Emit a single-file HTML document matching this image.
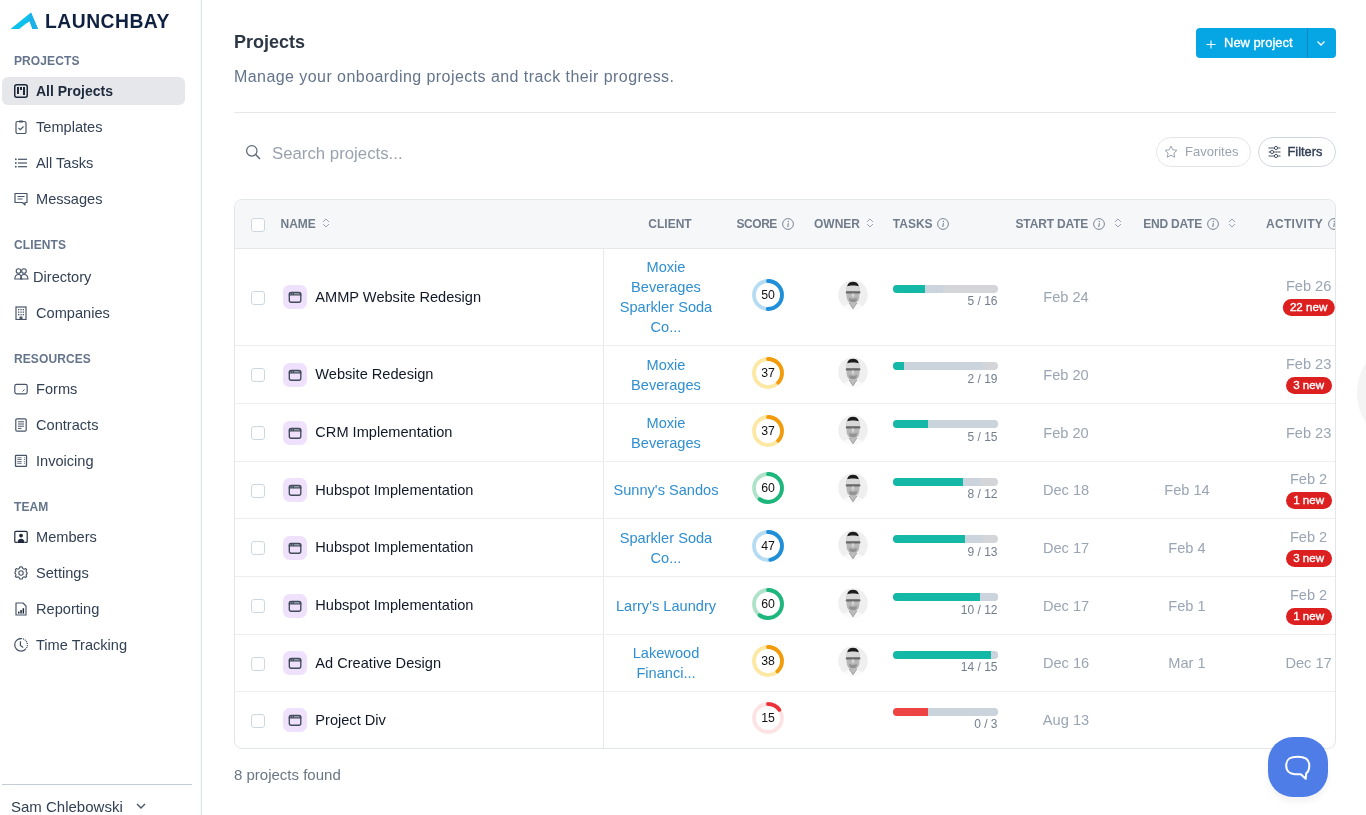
<!DOCTYPE html>
<html><head><meta charset="utf-8">
<style>
*{box-sizing:border-box;margin:0;padding:0}
html,body{width:1366px;height:815px;overflow:hidden;background:#fff;font-family:"Liberation Sans",sans-serif}
#side,#main{will-change:transform}
.abs{position:absolute}
#side{position:absolute;left:0;top:0;width:202px;height:815px;background:#fff;border-right:1px solid #e4e6ee;box-shadow:inset -1px 0 0 #f6f7fa}
.sec{position:absolute;left:14px;font-size:12px;font-weight:700;color:#64748b;letter-spacing:0.1px;line-height:14px}
.nav{position:absolute;left:2px;width:183px;height:28px;border-radius:6px}
.nav.act{background:#e5e7eb}
.nav svg{position:absolute;left:12px;top:7px}
.nav span{position:absolute;left:34px;top:5px;font-size:14.6px;color:#334155;line-height:18px;white-space:nowrap}
.nav.act span{font-weight:700;color:#1e293b;font-size:14px}
#main{position:absolute;left:202px;top:0;width:1164px;height:815px}
.th{position:absolute;top:0;line-height:14px;font-size:12px;font-weight:700;color:#717c8b;white-space:nowrap}
.row{position:absolute;left:0;width:1101px;border-top:1px solid #e8eaee}
.cb{position:absolute;left:16px;width:14px;height:14px;border:1.5px solid #cfd6df;border-radius:3px;background:#fff}
.pic{position:absolute;left:48px;width:24px;height:24px;border-radius:6px;background:#f1e3fc}
.pn{position:absolute;left:80px;font-size:14.6px;color:#111827;white-space:nowrap;line-height:18px}
.cl{position:absolute;left:369px;width:125px;text-align:center;font-size:14.6px;color:#2f8fd0;line-height:20px}
.date{position:absolute;font-size:14.6px;color:#9aa5b4;line-height:18px;white-space:nowrap}
.badge{position:absolute;height:17px;line-height:15.6px;border-radius:8.5px;background:#dc2020;color:#fff;font-size:11.6px;font-weight:400;-webkit-text-stroke:0.35px #fff;text-align:center;padding:0 7.5px;white-space:nowrap}
.bar{position:absolute;left:658px;width:105px;height:8px;border-radius:4px;background:#d3d4d6;overflow:hidden}
.tk{position:absolute;left:658px;width:105px;text-align:right;font-size:12px;color:#737e8d;line-height:14px}
.ring{position:absolute;left:516px;width:34px;height:34px}
.av{position:absolute;left:603px;width:30px;height:30px}
</style></head><body>
<div id="side">
  <!-- logo -->
  <svg class="abs" style="left:10px;top:12px" width="30" height="18" viewBox="0 0 30 18">
    <path d="M0.5 17 L21 0.5 L28 17 L22.5 17 L19.5 9 L9 17 Z" fill="#0cc2ec"/>
    <path d="M21 0.5 L28 17 L22.5 17 L19.5 9 L16.5 11.3 Z" fill="#1cb0e9"/>
  </svg>
  <div class="abs" style="left:45px;top:11.1px;font-size:19.3px;font-weight:700;color:#0f2140;letter-spacing:0.5px;line-height:22px">LAUNCHBAY</div>

  <div class="sec" style="top:54px">PROJECTS</div>
  <div class="nav act" style="top:77px"><svg width="14" height="14" viewBox="0 0 14 14"><rect x="0.75" y="0.75" width="12.5" height="12.5" rx="2" fill="none" stroke="#1e293b" stroke-width="1.5"/><rect x="3" y="3" width="2" height="7" fill="#1e293b"/><rect x="6" y="3" width="2" height="3" fill="#1e293b"/><rect x="9" y="3" width="2" height="8" fill="#1e293b"/></svg><span>All Projects</span></div>
  <div class="nav" style="top:113px"><svg width="14" height="14" viewBox="0 0 14 14"><rect x="2" y="1.5" width="10" height="12" rx="1.5" fill="none" stroke="#475569" stroke-width="1.2"/><rect x="5" y="0.5" width="4" height="2" rx="0.5" fill="#475569"/><path d="M4.5 8 L6.3 9.7 L9.5 6.5" fill="none" stroke="#475569" stroke-width="1.1"/></svg><span>Templates</span></div>
  <div class="nav" style="top:149px"><svg width="14" height="14" viewBox="0 0 14 14"><g fill="#475569"><rect x="1" y="2.5" width="1.6" height="1.6"/><rect x="1" y="6.2" width="1.6" height="1.6"/><rect x="1" y="9.9" width="1.6" height="1.6"/><rect x="4" y="2.7" width="9" height="1.2"/><rect x="4" y="6.4" width="9" height="1.2"/><rect x="4" y="10.1" width="9" height="1.2"/></g></svg><span>All Tasks</span></div>
  <div class="nav" style="top:185px"><svg width="14" height="14" viewBox="0 0 14 14"><path d="M1 1.5 H13 V10.5 H11 V13 L8.5 10.5 H1 Z" fill="none" stroke="#475569" stroke-width="1.2" stroke-linejoin="round"/><path d="M3.5 4.5 H10.5 M3.5 7 H8.5" stroke="#475569" stroke-width="1.1"/></svg><span>Messages</span></div>

  <div class="sec" style="top:238px">CLIENTS</div>
  <div class="nav" style="top:263px"><svg style="top:5px" width="15" height="12" viewBox="0 0 15 12"><g fill="none" stroke="#475569" stroke-width="1.1"><circle cx="4.5" cy="3" r="2.3"/><circle cx="10" cy="3" r="2.3"/><path d="M0.8 11 C1 7.5 3 6.5 4.5 6.5 C6 6.5 7.5 7.5 7.8 11 Z"/><path d="M6.5 11 C6.8 7.5 8.5 6.5 10 6.5 C11.5 6.5 13.8 7.5 14 11 Z"/></g></svg><span style="left:31px">Directory</span></div>
  <div class="nav" style="top:299px"><svg width="14" height="14" viewBox="0 0 14 14"><rect x="2" y="1" width="10" height="12.5" fill="none" stroke="#475569" stroke-width="1.2"/><g fill="#475569"><rect x="4" y="3" width="1.3" height="1.3"/><rect x="6.4" y="3" width="1.3" height="1.3"/><rect x="8.7" y="3" width="1.3" height="1.3"/><rect x="4" y="5.5" width="1.3" height="1.3"/><rect x="6.4" y="5.5" width="1.3" height="1.3"/><rect x="8.7" y="5.5" width="1.3" height="1.3"/><rect x="4" y="8" width="1.3" height="1.3"/><rect x="6.4" y="8" width="1.3" height="1.3"/><rect x="8.7" y="8" width="1.3" height="1.3"/><rect x="5.5" y="10.5" width="3" height="3"/></g></svg><span>Companies</span></div>

  <div class="sec" style="top:352px">RESOURCES</div>
  <div class="nav" style="top:375px"><svg width="14" height="14" viewBox="0 0 14 14"><rect x="0.8" y="2.3" width="12.4" height="9.5" rx="1.8" fill="none" stroke="#475569" stroke-width="1.2"/><path d="M8.5 9.5 L10.5 7.5" stroke="#475569" stroke-width="1"/></svg><span>Forms</span></div>
  <div class="nav" style="top:411px"><svg width="14" height="14" viewBox="0 0 14 14"><rect x="1.8" y="0.8" width="10.4" height="12.4" rx="1.2" fill="none" stroke="#475569" stroke-width="1.2"/><path d="M4 3.8 H10 M4 6 H10 M4 8.2 H10 M4 10.4 H7.5" stroke="#475569" stroke-width="1"/></svg><span>Contracts</span></div>
  <div class="nav" style="top:447px"><svg width="14" height="14" viewBox="0 0 14 14"><rect x="1.5" y="1.3" width="11" height="11" rx="0.6" fill="none" stroke="#475569" stroke-width="1.3"/><path d="M3.3 3.8 H7.6 M3.3 5.5 H7.6 M3.3 7.6 H7.6 M3.3 9.3 H7.6 M9.9 3.8 H10.9 M9.9 5.5 H10.9 M9.9 7.6 H10.9 M9.9 9.3 H10.9" stroke="#5b6675" stroke-width="0.9"/></svg><span>Invoicing</span></div>

  <div class="sec" style="top:500px">TEAM</div>
  <div class="nav" style="top:523px"><svg width="14" height="14" viewBox="0 0 14 14"><path d="M3.2 12.4 H1.8 Q0.8 12.4 0.8 11.4 V2.4 Q0.8 1.4 1.8 1.4 H12.2 Q13.2 1.4 13.2 2.4 V11.4 Q13.2 12.4 12.2 12.4 H10.8" fill="none" stroke="#1e293b" stroke-width="1.2"/><circle cx="7" cy="5.6" r="1.9" fill="#1e293b"/><path d="M3.3 13 C3.6 9.8 5 8.7 7 8.7 C9 8.7 10.4 9.8 10.7 13 Z" fill="#1e293b"/></svg><span>Members</span></div>
  <div class="nav" style="top:559px"><svg width="14" height="14" viewBox="0 0 14 14"><path d="M7 0.8 L8.3 1 L8.8 2.6 L10.2 3.3 L11.7 2.6 L12.7 3.6 L12 5.1 L12.6 6.5 L13.2 7 L12.6 8.5 L12 8.9 L12.7 10.4 L11.7 11.4 L10.2 10.7 L8.8 11.4 L8.3 13 L5.7 13 L5.2 11.4 L3.8 10.7 L2.3 11.4 L1.3 10.4 L2 8.9 L1.4 7.5 L0.8 7 L1.4 5.5 L2 5.1 L1.3 3.6 L2.3 2.6 L3.8 3.3 L5.2 2.6 L5.7 1 Z" fill="none" stroke="#475569" stroke-width="1.1" stroke-linejoin="round"/><circle cx="7" cy="7" r="2.2" fill="none" stroke="#475569" stroke-width="1.1"/></svg><span>Settings</span></div>
  <div class="nav" style="top:595px"><svg width="14" height="14" viewBox="0 0 14 14"><path d="M2 1 H9 L12 4 V13 H2 Z" fill="none" stroke="#475569" stroke-width="1.2" stroke-linejoin="round"/><g fill="#1e293b"><rect x="4" y="9.6" width="1.5" height="2"/><rect x="6.3" y="8" width="1.5" height="3.6"/><rect x="8.6" y="6.2" width="1.5" height="5.4"/></g></svg><span>Reporting</span></div>
  <div class="nav" style="top:631px"><svg width="15" height="15" viewBox="0 0 15 15"><path d="M7 0.5 A6.3 6.3 0 0 0 7 13.1 A6.3 6.3 0 0 0 11.5 11.3" fill="none" stroke="#475569" stroke-width="1.25"/><path d="M7 0.5 A6.3 6.3 0 0 1 11.5 11.3" fill="none" stroke="#475569" stroke-width="1.25" stroke-dasharray="1.1 0.9"/><path d="M6.4 3.2 V7.4 L9.2 9.4" fill="none" stroke="#475569" stroke-width="1.25"/></svg><span>Time Tracking</span></div>

  <div class="abs" style="left:2px;top:784px;width:190px;height:1px;background:#c4ccd6"></div>
  <div class="abs" style="left:11px;top:798px;font-size:15px;color:#334155;line-height:18px;white-space:nowrap">Sam Chlebowski</div>
  <svg class="abs" style="left:136px;top:803px" width="10" height="7" viewBox="0 0 10 7"><path d="M1 1 L5 5 L9 1" fill="none" stroke="#475569" stroke-width="1.4"/></svg>
</div>

<div id="main">
  <div class="abs" style="left:32px;top:31px;font-size:18px;font-weight:700;color:#2c3644;line-height:22px">Projects</div>
  <div class="abs" style="left:32px;top:67.3px;font-size:16px;color:#64748b;line-height:20px;letter-spacing:0.44px;white-space:nowrap">Manage your onboarding projects and track their progress.</div>

  <!-- new project button -->
  <div class="abs" style="left:994px;top:28px;width:140px;height:30px;background:#06a5e3;border-radius:4px"></div>
  <div class="abs" style="left:1105px;top:28px;width:1px;height:30px;background:#0a8ac0"></div>
  <svg class="abs" style="left:1003.5px;top:39.5px" width="10" height="9" viewBox="0 0 10 9"><path d="M5 0.5 V8.5 M0.5 4.5 H9.5" stroke="#fff" stroke-width="1.1"/></svg>
  <div class="abs" style="left:1022px;top:35px;font-size:13px;color:#fff;-webkit-text-stroke:0.3px #fff;line-height:16px;white-space:nowrap">New project</div>
  <svg class="abs" style="left:1114px;top:40px" width="10" height="7" viewBox="0 0 10 7"><path d="M1.5 1.5 L5 5 L8.5 1.5" fill="none" stroke="#fff" stroke-width="1.3"/></svg>

  <div class="abs" style="left:32px;top:112px;width:1102px;height:1px;background:#e5e7eb"></div>

  <!-- search -->
  <svg class="abs" style="left:43px;top:144px" width="16" height="16" viewBox="0 0 16 16"><circle cx="6.8" cy="6.8" r="5.2" fill="none" stroke="#5b6878" stroke-width="1.25"/><path d="M10.6 10.6 L15 15" stroke="#5b6878" stroke-width="1.4"/></svg>
  <div class="abs" style="left:70px;top:143.8px;font-size:16.8px;color:#9aa2ae;line-height:20px;white-space:nowrap">Search projects...</div>

  <!-- favorites / filters -->
  <div class="abs" style="left:954px;top:137px;width:95px;height:30px;border:1px solid #e2e5ea;border-radius:15px"></div>
  <svg class="abs" style="left:962px;top:145px" width="14" height="14" viewBox="0 0 14 14"><path d="M7 1 L8.8 4.8 L13 5.3 L9.9 8.1 L10.7 12.3 L7 10.2 L3.3 12.3 L4.1 8.1 L1 5.3 L5.2 4.8 Z" fill="none" stroke="#9aa3af" stroke-width="1" stroke-linejoin="round"/></svg>
  <div class="abs" style="left:983px;top:144px;font-size:13px;color:#9aa3af;line-height:16px">Favorites</div>
  <div class="abs" style="left:1056px;top:137px;width:78px;height:30px;border:1px solid #cfd6df;border-radius:15px"></div>
  <svg class="abs" style="left:1066px;top:145px" width="13" height="14" viewBox="0 0 13 14"><g stroke="#475569" stroke-width="1" fill="#fff"><path d="M0.5 3 H12.5 M0.5 7 H12.5 M0.5 11 H12.5"/><circle cx="8" cy="3" r="1.6"/><circle cx="4" cy="7" r="1.6"/><circle cx="8" cy="11" r="1.6"/></g></svg>
  <div class="abs" style="left:1085.5px;top:144px;font-size:12.8px;font-weight:400;-webkit-text-stroke:0.4px #334155;color:#334155;line-height:16px">Filters</div>

  <!-- table -->
  <div id="tbl" class="abs" style="left:32px;top:199px;width:1102px;height:550px;border:1px solid #e2e5ea;border-radius:8px;overflow:hidden">
<div class="abs" style="left:0;top:0;width:1102px;height:48px;background:#f6f7f9"></div>
<div class="abs" style="left:0;top:48.00px;width:1102px;height:1px;background:#e6e8ec"></div>
<div class="cb" style="left:16.00px;top:17.50px"></div>
<div class="th" style="left:45.50px;top:16.60px;letter-spacing:0px">NAME</div>
<svg class="abs" style="left:87.00px;top:18.00px" width="8" height="10" viewBox="0 0 8 10"><path d="M1 4 L4 1 L7 4 M1 6 L4 9 L7 6" fill="none" stroke="#9aa3af" stroke-width="1"/></svg>
<div class="th" style="left:413.30px;top:16.60px;letter-spacing:0px">CLIENT</div>
<div class="th" style="left:501.50px;top:16.60px;letter-spacing:-0.45px">SCORE</div>
<svg class="abs" style="left:547.00px;top:18.00px" width="12" height="12" viewBox="0 0 12 12"><circle cx="6" cy="6" r="5.4" fill="none" stroke="#7b8594" stroke-width="1"/><circle cx="6.4" cy="3.6" r="0.75" fill="#7b8594"/><path d="M6.4 5.2 L5.8 9" stroke="#7b8594" stroke-width="1.1"/></svg>
<div class="th" style="left:579.00px;top:16.60px;letter-spacing:0px">OWNER</div>
<svg class="abs" style="left:631.00px;top:18.00px" width="8" height="10" viewBox="0 0 8 10"><path d="M1 4 L4 1 L7 4 M1 6 L4 9 L7 6" fill="none" stroke="#9aa3af" stroke-width="1"/></svg>
<div class="th" style="left:657.80px;top:16.60px;letter-spacing:0px">TASKS</div>
<svg class="abs" style="left:701.50px;top:18.00px" width="12" height="12" viewBox="0 0 12 12"><circle cx="6" cy="6" r="5.4" fill="none" stroke="#7b8594" stroke-width="1"/><circle cx="6.4" cy="3.6" r="0.75" fill="#7b8594"/><path d="M6.4 5.2 L5.8 9" stroke="#7b8594" stroke-width="1.1"/></svg>
<div class="th" style="left:780.50px;top:16.60px;letter-spacing:-0.15px">START DATE</div>
<svg class="abs" style="left:858.00px;top:18.00px" width="12" height="12" viewBox="0 0 12 12"><circle cx="6" cy="6" r="5.4" fill="none" stroke="#7b8594" stroke-width="1"/><circle cx="6.4" cy="3.6" r="0.75" fill="#7b8594"/><path d="M6.4 5.2 L5.8 9" stroke="#7b8594" stroke-width="1.1"/></svg>
<svg class="abs" style="left:879.00px;top:18.00px" width="8" height="10" viewBox="0 0 8 10"><path d="M1 4 L4 1 L7 4 M1 6 L4 9 L7 6" fill="none" stroke="#9aa3af" stroke-width="1"/></svg>
<div class="th" style="left:908.30px;top:16.60px;letter-spacing:-0.22px">END DATE</div>
<svg class="abs" style="left:972.00px;top:18.00px" width="12" height="12" viewBox="0 0 12 12"><circle cx="6" cy="6" r="5.4" fill="none" stroke="#7b8594" stroke-width="1"/><circle cx="6.4" cy="3.6" r="0.75" fill="#7b8594"/><path d="M6.4 5.2 L5.8 9" stroke="#7b8594" stroke-width="1.1"/></svg>
<svg class="abs" style="left:993.00px;top:18.00px" width="8" height="10" viewBox="0 0 8 10"><path d="M1 4 L4 1 L7 4 M1 6 L4 9 L7 6" fill="none" stroke="#9aa3af" stroke-width="1"/></svg>
<div class="th" style="left:1031.00px;top:16.60px;letter-spacing:0.3px">ACTIVITY</div>
<svg class="abs" style="left:1093.00px;top:18.00px" width="12" height="12" viewBox="0 0 12 12"><circle cx="6" cy="6" r="5.4" fill="none" stroke="#7b8594" stroke-width="1"/><circle cx="6.4" cy="3.6" r="0.75" fill="#7b8594"/><path d="M6.4 5.2 L5.8 9" stroke="#7b8594" stroke-width="1.1"/></svg>
<div class="abs" style="left:368.00px;top:49.00px;width:1px;height:500px;background:#e6e8ec"></div>
<div class="cb" style="left:16.00px;top:90.50px"></div>
<div class="abs" style="left:48.00px;top:85.00px;width:24px;height:24px;border-radius:6.5px;background:#efe1fc"></div><svg class="abs" style="left:53.00px;top:91.00px" width="14" height="12" viewBox="0 0 14 12"><rect x="1.3" y="1.5" width="11.5" height="9.7" rx="1.9" fill="none" stroke="#414b59" stroke-width="1.35"/><path d="M0.8 4.6 V3 Q0.8 0.9 2.9 0.9 H11.2 Q13.3 0.9 13.3 3 V4.6 Z" fill="#414b59"/><rect x="2.4" y="2.0" width="0.8" height="1.5" fill="#8f97a3"/><rect x="3.9" y="2.0" width="0.8" height="1.5" fill="#8f97a3"/><rect x="5.9" y="2.0" width="5.6" height="1.5" fill="#8f97a3"/></svg>
<div class="pn" style="left:80.30px;top:87.80px">AMMP Website Redesign</div>
<div class="cl" style="left:368.50px;top:57.00px;width:125px">Moxie<br>Beverages<br>Sparkler Soda<br>Co...</div>
<svg class="abs" style="left:514.80px;top:77.40px" width="36" height="36" viewBox="0 0 36 36"><circle cx="18" cy="18" r="14.0" fill="none" stroke="#b6dcf3" stroke-width="3.8"/><circle cx="18" cy="18" r="14.0" fill="none" stroke="#1f8fd8" stroke-width="3.8" stroke-linecap="round" stroke-dasharray="43.98 87.96" transform="rotate(-90 18 18)"/><text x="18" y="22.3" text-anchor="middle" font-family="Liberation Sans" font-size="12.3" fill="#111">50</text></svg>
<svg class="abs" style="left:603.20px;top:79.70px" width="30" height="30" viewBox="0 0 30 30"><defs><clipPath id="avc"><circle cx="15" cy="15" r="14.8"/></clipPath><filter id="avb" x="-10%" y="-10%" width="120%" height="120%"><feGaussianBlur stdDeviation="0.45"/></filter></defs><g clip-path="url(#avc)"><rect width="30" height="30" fill="#efefef"/><g filter="url(#avb)"><path d="M3 31 C4 26 8 24.5 12 23.5 L18 23.5 C22 24.5 26 26 27 31 Z" fill="#fafafa"/><path d="M11.5 23 L15 28.5 L18.5 23 L17.5 21 L12.5 21 Z" fill="#bdbdbd"/><path d="M11.2 23 L15 28.8 L18.8 23" fill="none" stroke="#808080" stroke-width="0.7"/><path d="M8.3 10 C8.3 4.8 11 2.4 15 2.4 C19 2.4 21.7 4.8 21.7 10 L21.3 17 C20.8 21.8 18.3 23.2 15 23.2 C11.7 23.2 9.2 21.8 8.7 17 Z" fill="#b7b7b7"/><path d="M8.6 7 C9.3 5 11.5 4.3 15 4.3 C18.5 4.3 20.7 5 21.4 7 L21.6 11.3 L8.4 11.3 Z" fill="#d8d8d8"/><path d="M9.2 6.3 C9.8 3 12 1.8 15 1.8 C18 1.8 20.2 3 20.8 6.3 C18.5 5.1 11.5 5.1 9.2 6.3 Z" fill="#1e1e1e"/><rect x="7.8" y="11.3" width="14.6" height="2.2" rx="0.8" fill="#6a6a6a"/><ellipse cx="15" cy="15.3" rx="1.3" ry="2" fill="#d4d4d4"/><path d="M11 17.8 C13 19.3 17 19.3 19 17.8 L18.6 20.5 C17.3 22.5 12.7 22.5 11.4 20.5 Z" fill="#929292"/></g></g></svg>
<div class="abs" style="left:657.50px;top:84.80px;width:105px;height:8px;border-radius:4px;background:#d4d5d8;overflow:hidden"><div class="abs" style="left:32.8px;top:0;width:18.0px;height:8px;background:#cbd3dd"></div><div class="abs" style="left:0;top:0;width:32.8px;height:8px;background:#14b8a6"></div></div>
<div class="tk" style="left:657.50px;top:94.00px">5 / 16</div>
<div class="date" style="left:781.00px;top:88.00px;width:100px;text-align:center">Feb 24</div>
<div class="date" style="left:1023.60px;top:77.00px;width:100px;text-align:center">Feb 26</div>
<div class="badge" style="left:1073.60px;top:99.30px;transform:translateX(-50%)">22 new</div>
<div class="abs" style="left:0;top:145.00px;width:1102px;height:1px;background:#eceef1"></div>
<div class="cb" style="left:16.00px;top:168.00px"></div>
<div class="abs" style="left:48.00px;top:162.50px;width:24px;height:24px;border-radius:6.5px;background:#efe1fc"></div><svg class="abs" style="left:53.00px;top:168.50px" width="14" height="12" viewBox="0 0 14 12"><rect x="1.3" y="1.5" width="11.5" height="9.7" rx="1.9" fill="none" stroke="#414b59" stroke-width="1.35"/><path d="M0.8 4.6 V3 Q0.8 0.9 2.9 0.9 H11.2 Q13.3 0.9 13.3 3 V4.6 Z" fill="#414b59"/><rect x="2.4" y="2.0" width="0.8" height="1.5" fill="#8f97a3"/><rect x="3.9" y="2.0" width="0.8" height="1.5" fill="#8f97a3"/><rect x="5.9" y="2.0" width="5.6" height="1.5" fill="#8f97a3"/></svg>
<div class="pn" style="left:80.30px;top:165.30px">Website Redesign</div>
<div class="cl" style="left:368.50px;top:154.50px;width:125px">Moxie<br>Beverages</div>
<svg class="abs" style="left:514.80px;top:154.90px" width="36" height="36" viewBox="0 0 36 36"><circle cx="18" cy="18" r="14.0" fill="none" stroke="#fde8a3" stroke-width="3.8"/><circle cx="18" cy="18" r="14.0" fill="none" stroke="#f29b0c" stroke-width="3.8" stroke-linecap="round" stroke-dasharray="32.55 87.96" transform="rotate(-90 18 18)"/><text x="18" y="22.3" text-anchor="middle" font-family="Liberation Sans" font-size="12.3" fill="#111">37</text></svg>
<svg class="abs" style="left:603.20px;top:157.20px" width="30" height="30" viewBox="0 0 30 30"><defs><clipPath id="avc"><circle cx="15" cy="15" r="14.8"/></clipPath><filter id="avb" x="-10%" y="-10%" width="120%" height="120%"><feGaussianBlur stdDeviation="0.45"/></filter></defs><g clip-path="url(#avc)"><rect width="30" height="30" fill="#efefef"/><g filter="url(#avb)"><path d="M3 31 C4 26 8 24.5 12 23.5 L18 23.5 C22 24.5 26 26 27 31 Z" fill="#fafafa"/><path d="M11.5 23 L15 28.5 L18.5 23 L17.5 21 L12.5 21 Z" fill="#bdbdbd"/><path d="M11.2 23 L15 28.8 L18.8 23" fill="none" stroke="#808080" stroke-width="0.7"/><path d="M8.3 10 C8.3 4.8 11 2.4 15 2.4 C19 2.4 21.7 4.8 21.7 10 L21.3 17 C20.8 21.8 18.3 23.2 15 23.2 C11.7 23.2 9.2 21.8 8.7 17 Z" fill="#b7b7b7"/><path d="M8.6 7 C9.3 5 11.5 4.3 15 4.3 C18.5 4.3 20.7 5 21.4 7 L21.6 11.3 L8.4 11.3 Z" fill="#d8d8d8"/><path d="M9.2 6.3 C9.8 3 12 1.8 15 1.8 C18 1.8 20.2 3 20.8 6.3 C18.5 5.1 11.5 5.1 9.2 6.3 Z" fill="#1e1e1e"/><rect x="7.8" y="11.3" width="14.6" height="2.2" rx="0.8" fill="#6a6a6a"/><ellipse cx="15" cy="15.3" rx="1.3" ry="2" fill="#d4d4d4"/><path d="M11 17.8 C13 19.3 17 19.3 19 17.8 L18.6 20.5 C17.3 22.5 12.7 22.5 11.4 20.5 Z" fill="#929292"/></g></g></svg>
<div class="abs" style="left:657.50px;top:162.30px;width:105px;height:8px;border-radius:4px;background:#d4d5d8;overflow:hidden"><div class="abs" style="left:11.1px;top:0;width:79.9px;height:8px;background:#cbd3dd"></div><div class="abs" style="left:0;top:0;width:11.1px;height:8px;background:#14b8a6"></div></div>
<div class="tk" style="left:657.50px;top:171.50px">2 / 19</div>
<div class="date" style="left:781.00px;top:165.50px;width:100px;text-align:center">Feb 20</div>
<div class="date" style="left:1023.60px;top:154.50px;width:100px;text-align:center">Feb 23</div>
<div class="badge" style="left:1073.60px;top:176.80px;transform:translateX(-50%)">3 new</div>
<div class="abs" style="left:0;top:203.00px;width:1102px;height:1px;background:#eceef1"></div>
<div class="cb" style="left:16.00px;top:226.00px"></div>
<div class="abs" style="left:48.00px;top:220.50px;width:24px;height:24px;border-radius:6.5px;background:#efe1fc"></div><svg class="abs" style="left:53.00px;top:226.50px" width="14" height="12" viewBox="0 0 14 12"><rect x="1.3" y="1.5" width="11.5" height="9.7" rx="1.9" fill="none" stroke="#414b59" stroke-width="1.35"/><path d="M0.8 4.6 V3 Q0.8 0.9 2.9 0.9 H11.2 Q13.3 0.9 13.3 3 V4.6 Z" fill="#414b59"/><rect x="2.4" y="2.0" width="0.8" height="1.5" fill="#8f97a3"/><rect x="3.9" y="2.0" width="0.8" height="1.5" fill="#8f97a3"/><rect x="5.9" y="2.0" width="5.6" height="1.5" fill="#8f97a3"/></svg>
<div class="pn" style="left:80.30px;top:223.30px">CRM Implementation</div>
<div class="cl" style="left:368.50px;top:212.50px;width:125px">Moxie<br>Beverages</div>
<svg class="abs" style="left:514.80px;top:212.90px" width="36" height="36" viewBox="0 0 36 36"><circle cx="18" cy="18" r="14.0" fill="none" stroke="#fde8a3" stroke-width="3.8"/><circle cx="18" cy="18" r="14.0" fill="none" stroke="#f29b0c" stroke-width="3.8" stroke-linecap="round" stroke-dasharray="32.55 87.96" transform="rotate(-90 18 18)"/><text x="18" y="22.3" text-anchor="middle" font-family="Liberation Sans" font-size="12.3" fill="#111">37</text></svg>
<svg class="abs" style="left:603.20px;top:215.20px" width="30" height="30" viewBox="0 0 30 30"><defs><clipPath id="avc"><circle cx="15" cy="15" r="14.8"/></clipPath><filter id="avb" x="-10%" y="-10%" width="120%" height="120%"><feGaussianBlur stdDeviation="0.45"/></filter></defs><g clip-path="url(#avc)"><rect width="30" height="30" fill="#efefef"/><g filter="url(#avb)"><path d="M3 31 C4 26 8 24.5 12 23.5 L18 23.5 C22 24.5 26 26 27 31 Z" fill="#fafafa"/><path d="M11.5 23 L15 28.5 L18.5 23 L17.5 21 L12.5 21 Z" fill="#bdbdbd"/><path d="M11.2 23 L15 28.8 L18.8 23" fill="none" stroke="#808080" stroke-width="0.7"/><path d="M8.3 10 C8.3 4.8 11 2.4 15 2.4 C19 2.4 21.7 4.8 21.7 10 L21.3 17 C20.8 21.8 18.3 23.2 15 23.2 C11.7 23.2 9.2 21.8 8.7 17 Z" fill="#b7b7b7"/><path d="M8.6 7 C9.3 5 11.5 4.3 15 4.3 C18.5 4.3 20.7 5 21.4 7 L21.6 11.3 L8.4 11.3 Z" fill="#d8d8d8"/><path d="M9.2 6.3 C9.8 3 12 1.8 15 1.8 C18 1.8 20.2 3 20.8 6.3 C18.5 5.1 11.5 5.1 9.2 6.3 Z" fill="#1e1e1e"/><rect x="7.8" y="11.3" width="14.6" height="2.2" rx="0.8" fill="#6a6a6a"/><ellipse cx="15" cy="15.3" rx="1.3" ry="2" fill="#d4d4d4"/><path d="M11 17.8 C13 19.3 17 19.3 19 17.8 L18.6 20.5 C17.3 22.5 12.7 22.5 11.4 20.5 Z" fill="#929292"/></g></g></svg>
<div class="abs" style="left:657.50px;top:220.30px;width:105px;height:8px;border-radius:4px;background:#d4d5d8;overflow:hidden"><div class="abs" style="left:35.0px;top:0;width:70.0px;height:8px;background:#cbd3dd"></div><div class="abs" style="left:0;top:0;width:35.0px;height:8px;background:#14b8a6"></div></div>
<div class="tk" style="left:657.50px;top:229.50px">5 / 15</div>
<div class="date" style="left:781.00px;top:223.50px;width:100px;text-align:center">Feb 20</div>
<div class="date" style="left:1023.60px;top:223.50px;width:100px;text-align:center">Feb 23</div>
<div class="abs" style="left:0;top:261.00px;width:1102px;height:1px;background:#eceef1"></div>
<div class="cb" style="left:16.00px;top:283.50px"></div>
<div class="abs" style="left:48.00px;top:278.00px;width:24px;height:24px;border-radius:6.5px;background:#efe1fc"></div><svg class="abs" style="left:53.00px;top:284.00px" width="14" height="12" viewBox="0 0 14 12"><rect x="1.3" y="1.5" width="11.5" height="9.7" rx="1.9" fill="none" stroke="#414b59" stroke-width="1.35"/><path d="M0.8 4.6 V3 Q0.8 0.9 2.9 0.9 H11.2 Q13.3 0.9 13.3 3 V4.6 Z" fill="#414b59"/><rect x="2.4" y="2.0" width="0.8" height="1.5" fill="#8f97a3"/><rect x="3.9" y="2.0" width="0.8" height="1.5" fill="#8f97a3"/><rect x="5.9" y="2.0" width="5.6" height="1.5" fill="#8f97a3"/></svg>
<div class="pn" style="left:80.30px;top:280.80px">Hubspot Implementation</div>
<div class="cl" style="left:368.50px;top:280.00px;width:125px">Sunny's Sandos</div>
<svg class="abs" style="left:514.80px;top:270.40px" width="36" height="36" viewBox="0 0 36 36"><circle cx="18" cy="18" r="14.0" fill="none" stroke="#aee3ca" stroke-width="3.8"/><circle cx="18" cy="18" r="14.0" fill="none" stroke="#1db67c" stroke-width="3.8" stroke-linecap="round" stroke-dasharray="52.78 87.96" transform="rotate(-90 18 18)"/><text x="18" y="22.3" text-anchor="middle" font-family="Liberation Sans" font-size="12.3" fill="#111">60</text></svg>
<svg class="abs" style="left:603.20px;top:272.70px" width="30" height="30" viewBox="0 0 30 30"><defs><clipPath id="avc"><circle cx="15" cy="15" r="14.8"/></clipPath><filter id="avb" x="-10%" y="-10%" width="120%" height="120%"><feGaussianBlur stdDeviation="0.45"/></filter></defs><g clip-path="url(#avc)"><rect width="30" height="30" fill="#efefef"/><g filter="url(#avb)"><path d="M3 31 C4 26 8 24.5 12 23.5 L18 23.5 C22 24.5 26 26 27 31 Z" fill="#fafafa"/><path d="M11.5 23 L15 28.5 L18.5 23 L17.5 21 L12.5 21 Z" fill="#bdbdbd"/><path d="M11.2 23 L15 28.8 L18.8 23" fill="none" stroke="#808080" stroke-width="0.7"/><path d="M8.3 10 C8.3 4.8 11 2.4 15 2.4 C19 2.4 21.7 4.8 21.7 10 L21.3 17 C20.8 21.8 18.3 23.2 15 23.2 C11.7 23.2 9.2 21.8 8.7 17 Z" fill="#b7b7b7"/><path d="M8.6 7 C9.3 5 11.5 4.3 15 4.3 C18.5 4.3 20.7 5 21.4 7 L21.6 11.3 L8.4 11.3 Z" fill="#d8d8d8"/><path d="M9.2 6.3 C9.8 3 12 1.8 15 1.8 C18 1.8 20.2 3 20.8 6.3 C18.5 5.1 11.5 5.1 9.2 6.3 Z" fill="#1e1e1e"/><rect x="7.8" y="11.3" width="14.6" height="2.2" rx="0.8" fill="#6a6a6a"/><ellipse cx="15" cy="15.3" rx="1.3" ry="2" fill="#d4d4d4"/><path d="M11 17.8 C13 19.3 17 19.3 19 17.8 L18.6 20.5 C17.3 22.5 12.7 22.5 11.4 20.5 Z" fill="#929292"/></g></g></svg>
<div class="abs" style="left:657.50px;top:277.80px;width:105px;height:8px;border-radius:4px;background:#d4d5d8;overflow:hidden"><div class="abs" style="left:70.0px;top:0;width:17.5px;height:8px;background:#cbd3dd"></div><div class="abs" style="left:0;top:0;width:70.0px;height:8px;background:#14b8a6"></div></div>
<div class="tk" style="left:657.50px;top:287.00px">8 / 12</div>
<div class="date" style="left:781.00px;top:281.00px;width:100px;text-align:center">Dec 18</div>
<div class="date" style="left:902.00px;top:281.00px;width:100px;text-align:center">Feb 14</div>
<div class="date" style="left:1023.60px;top:270.00px;width:100px;text-align:center">Feb 2</div>
<div class="badge" style="left:1073.60px;top:292.30px;transform:translateX(-50%)">1 new</div>
<div class="abs" style="left:0;top:318.00px;width:1102px;height:1px;background:#eceef1"></div>
<div class="cb" style="left:16.00px;top:341.00px"></div>
<div class="abs" style="left:48.00px;top:335.50px;width:24px;height:24px;border-radius:6.5px;background:#efe1fc"></div><svg class="abs" style="left:53.00px;top:341.50px" width="14" height="12" viewBox="0 0 14 12"><rect x="1.3" y="1.5" width="11.5" height="9.7" rx="1.9" fill="none" stroke="#414b59" stroke-width="1.35"/><path d="M0.8 4.6 V3 Q0.8 0.9 2.9 0.9 H11.2 Q13.3 0.9 13.3 3 V4.6 Z" fill="#414b59"/><rect x="2.4" y="2.0" width="0.8" height="1.5" fill="#8f97a3"/><rect x="3.9" y="2.0" width="0.8" height="1.5" fill="#8f97a3"/><rect x="5.9" y="2.0" width="5.6" height="1.5" fill="#8f97a3"/></svg>
<div class="pn" style="left:80.30px;top:338.30px">Hubspot Implementation</div>
<div class="cl" style="left:368.50px;top:327.50px;width:125px">Sparkler Soda<br>Co...</div>
<svg class="abs" style="left:514.80px;top:327.90px" width="36" height="36" viewBox="0 0 36 36"><circle cx="18" cy="18" r="14.0" fill="none" stroke="#b6dcf3" stroke-width="3.8"/><circle cx="18" cy="18" r="14.0" fill="none" stroke="#1f8fd8" stroke-width="3.8" stroke-linecap="round" stroke-dasharray="41.34 87.96" transform="rotate(-90 18 18)"/><text x="18" y="22.3" text-anchor="middle" font-family="Liberation Sans" font-size="12.3" fill="#111">47</text></svg>
<svg class="abs" style="left:603.20px;top:330.20px" width="30" height="30" viewBox="0 0 30 30"><defs><clipPath id="avc"><circle cx="15" cy="15" r="14.8"/></clipPath><filter id="avb" x="-10%" y="-10%" width="120%" height="120%"><feGaussianBlur stdDeviation="0.45"/></filter></defs><g clip-path="url(#avc)"><rect width="30" height="30" fill="#efefef"/><g filter="url(#avb)"><path d="M3 31 C4 26 8 24.5 12 23.5 L18 23.5 C22 24.5 26 26 27 31 Z" fill="#fafafa"/><path d="M11.5 23 L15 28.5 L18.5 23 L17.5 21 L12.5 21 Z" fill="#bdbdbd"/><path d="M11.2 23 L15 28.8 L18.8 23" fill="none" stroke="#808080" stroke-width="0.7"/><path d="M8.3 10 C8.3 4.8 11 2.4 15 2.4 C19 2.4 21.7 4.8 21.7 10 L21.3 17 C20.8 21.8 18.3 23.2 15 23.2 C11.7 23.2 9.2 21.8 8.7 17 Z" fill="#b7b7b7"/><path d="M8.6 7 C9.3 5 11.5 4.3 15 4.3 C18.5 4.3 20.7 5 21.4 7 L21.6 11.3 L8.4 11.3 Z" fill="#d8d8d8"/><path d="M9.2 6.3 C9.8 3 12 1.8 15 1.8 C18 1.8 20.2 3 20.8 6.3 C18.5 5.1 11.5 5.1 9.2 6.3 Z" fill="#1e1e1e"/><rect x="7.8" y="11.3" width="14.6" height="2.2" rx="0.8" fill="#6a6a6a"/><ellipse cx="15" cy="15.3" rx="1.3" ry="2" fill="#d4d4d4"/><path d="M11 17.8 C13 19.3 17 19.3 19 17.8 L18.6 20.5 C17.3 22.5 12.7 22.5 11.4 20.5 Z" fill="#929292"/></g></g></svg>
<div class="abs" style="left:657.50px;top:335.30px;width:105px;height:8px;border-radius:4px;background:#d4d5d8;overflow:hidden"><div class="abs" style="left:72.7px;top:0;width:17.8px;height:8px;background:#cbd3dd"></div><div class="abs" style="left:0;top:0;width:72.7px;height:8px;background:#14b8a6"></div></div>
<div class="tk" style="left:657.50px;top:344.50px">9 / 13</div>
<div class="date" style="left:781.00px;top:338.50px;width:100px;text-align:center">Dec 17</div>
<div class="date" style="left:902.00px;top:338.50px;width:100px;text-align:center">Feb 4</div>
<div class="date" style="left:1023.60px;top:327.50px;width:100px;text-align:center">Feb 2</div>
<div class="badge" style="left:1073.60px;top:349.80px;transform:translateX(-50%)">3 new</div>
<div class="abs" style="left:0;top:376.00px;width:1102px;height:1px;background:#eceef1"></div>
<div class="cb" style="left:16.00px;top:399.00px"></div>
<div class="abs" style="left:48.00px;top:393.50px;width:24px;height:24px;border-radius:6.5px;background:#efe1fc"></div><svg class="abs" style="left:53.00px;top:399.50px" width="14" height="12" viewBox="0 0 14 12"><rect x="1.3" y="1.5" width="11.5" height="9.7" rx="1.9" fill="none" stroke="#414b59" stroke-width="1.35"/><path d="M0.8 4.6 V3 Q0.8 0.9 2.9 0.9 H11.2 Q13.3 0.9 13.3 3 V4.6 Z" fill="#414b59"/><rect x="2.4" y="2.0" width="0.8" height="1.5" fill="#8f97a3"/><rect x="3.9" y="2.0" width="0.8" height="1.5" fill="#8f97a3"/><rect x="5.9" y="2.0" width="5.6" height="1.5" fill="#8f97a3"/></svg>
<div class="pn" style="left:80.30px;top:396.30px">Hubspot Implementation</div>
<div class="cl" style="left:368.50px;top:395.50px;width:125px">Larry's Laundry</div>
<svg class="abs" style="left:514.80px;top:385.90px" width="36" height="36" viewBox="0 0 36 36"><circle cx="18" cy="18" r="14.0" fill="none" stroke="#aee3ca" stroke-width="3.8"/><circle cx="18" cy="18" r="14.0" fill="none" stroke="#1db67c" stroke-width="3.8" stroke-linecap="round" stroke-dasharray="52.78 87.96" transform="rotate(-90 18 18)"/><text x="18" y="22.3" text-anchor="middle" font-family="Liberation Sans" font-size="12.3" fill="#111">60</text></svg>
<svg class="abs" style="left:603.20px;top:388.20px" width="30" height="30" viewBox="0 0 30 30"><defs><clipPath id="avc"><circle cx="15" cy="15" r="14.8"/></clipPath><filter id="avb" x="-10%" y="-10%" width="120%" height="120%"><feGaussianBlur stdDeviation="0.45"/></filter></defs><g clip-path="url(#avc)"><rect width="30" height="30" fill="#efefef"/><g filter="url(#avb)"><path d="M3 31 C4 26 8 24.5 12 23.5 L18 23.5 C22 24.5 26 26 27 31 Z" fill="#fafafa"/><path d="M11.5 23 L15 28.5 L18.5 23 L17.5 21 L12.5 21 Z" fill="#bdbdbd"/><path d="M11.2 23 L15 28.8 L18.8 23" fill="none" stroke="#808080" stroke-width="0.7"/><path d="M8.3 10 C8.3 4.8 11 2.4 15 2.4 C19 2.4 21.7 4.8 21.7 10 L21.3 17 C20.8 21.8 18.3 23.2 15 23.2 C11.7 23.2 9.2 21.8 8.7 17 Z" fill="#b7b7b7"/><path d="M8.6 7 C9.3 5 11.5 4.3 15 4.3 C18.5 4.3 20.7 5 21.4 7 L21.6 11.3 L8.4 11.3 Z" fill="#d8d8d8"/><path d="M9.2 6.3 C9.8 3 12 1.8 15 1.8 C18 1.8 20.2 3 20.8 6.3 C18.5 5.1 11.5 5.1 9.2 6.3 Z" fill="#1e1e1e"/><rect x="7.8" y="11.3" width="14.6" height="2.2" rx="0.8" fill="#6a6a6a"/><ellipse cx="15" cy="15.3" rx="1.3" ry="2" fill="#d4d4d4"/><path d="M11 17.8 C13 19.3 17 19.3 19 17.8 L18.6 20.5 C17.3 22.5 12.7 22.5 11.4 20.5 Z" fill="#929292"/></g></g></svg>
<div class="abs" style="left:657.50px;top:393.30px;width:105px;height:8px;border-radius:4px;background:#d4d5d8;overflow:hidden"><div class="abs" style="left:87.5px;top:0;width:17.5px;height:8px;background:#cbd3dd"></div><div class="abs" style="left:0;top:0;width:87.5px;height:8px;background:#14b8a6"></div></div>
<div class="tk" style="left:657.50px;top:402.50px">10 / 12</div>
<div class="date" style="left:781.00px;top:396.50px;width:100px;text-align:center">Dec 17</div>
<div class="date" style="left:902.00px;top:396.50px;width:100px;text-align:center">Feb 1</div>
<div class="date" style="left:1023.60px;top:385.50px;width:100px;text-align:center">Feb 2</div>
<div class="badge" style="left:1073.60px;top:407.80px;transform:translateX(-50%)">1 new</div>
<div class="abs" style="left:0;top:434.00px;width:1102px;height:1px;background:#eceef1"></div>
<div class="cb" style="left:16.00px;top:456.50px"></div>
<div class="abs" style="left:48.00px;top:451.00px;width:24px;height:24px;border-radius:6.5px;background:#efe1fc"></div><svg class="abs" style="left:53.00px;top:457.00px" width="14" height="12" viewBox="0 0 14 12"><rect x="1.3" y="1.5" width="11.5" height="9.7" rx="1.9" fill="none" stroke="#414b59" stroke-width="1.35"/><path d="M0.8 4.6 V3 Q0.8 0.9 2.9 0.9 H11.2 Q13.3 0.9 13.3 3 V4.6 Z" fill="#414b59"/><rect x="2.4" y="2.0" width="0.8" height="1.5" fill="#8f97a3"/><rect x="3.9" y="2.0" width="0.8" height="1.5" fill="#8f97a3"/><rect x="5.9" y="2.0" width="5.6" height="1.5" fill="#8f97a3"/></svg>
<div class="pn" style="left:80.30px;top:453.80px">Ad Creative Design</div>
<div class="cl" style="left:368.50px;top:443.00px;width:125px">Lakewood<br>Financi...</div>
<svg class="abs" style="left:514.80px;top:443.40px" width="36" height="36" viewBox="0 0 36 36"><circle cx="18" cy="18" r="14.0" fill="none" stroke="#fde8a3" stroke-width="3.8"/><circle cx="18" cy="18" r="14.0" fill="none" stroke="#f29b0c" stroke-width="3.8" stroke-linecap="round" stroke-dasharray="33.43 87.96" transform="rotate(-90 18 18)"/><text x="18" y="22.3" text-anchor="middle" font-family="Liberation Sans" font-size="12.3" fill="#111">38</text></svg>
<svg class="abs" style="left:603.20px;top:445.70px" width="30" height="30" viewBox="0 0 30 30"><defs><clipPath id="avc"><circle cx="15" cy="15" r="14.8"/></clipPath><filter id="avb" x="-10%" y="-10%" width="120%" height="120%"><feGaussianBlur stdDeviation="0.45"/></filter></defs><g clip-path="url(#avc)"><rect width="30" height="30" fill="#efefef"/><g filter="url(#avb)"><path d="M3 31 C4 26 8 24.5 12 23.5 L18 23.5 C22 24.5 26 26 27 31 Z" fill="#fafafa"/><path d="M11.5 23 L15 28.5 L18.5 23 L17.5 21 L12.5 21 Z" fill="#bdbdbd"/><path d="M11.2 23 L15 28.8 L18.8 23" fill="none" stroke="#808080" stroke-width="0.7"/><path d="M8.3 10 C8.3 4.8 11 2.4 15 2.4 C19 2.4 21.7 4.8 21.7 10 L21.3 17 C20.8 21.8 18.3 23.2 15 23.2 C11.7 23.2 9.2 21.8 8.7 17 Z" fill="#b7b7b7"/><path d="M8.6 7 C9.3 5 11.5 4.3 15 4.3 C18.5 4.3 20.7 5 21.4 7 L21.6 11.3 L8.4 11.3 Z" fill="#d8d8d8"/><path d="M9.2 6.3 C9.8 3 12 1.8 15 1.8 C18 1.8 20.2 3 20.8 6.3 C18.5 5.1 11.5 5.1 9.2 6.3 Z" fill="#1e1e1e"/><rect x="7.8" y="11.3" width="14.6" height="2.2" rx="0.8" fill="#6a6a6a"/><ellipse cx="15" cy="15.3" rx="1.3" ry="2" fill="#d4d4d4"/><path d="M11 17.8 C13 19.3 17 19.3 19 17.8 L18.6 20.5 C17.3 22.5 12.7 22.5 11.4 20.5 Z" fill="#929292"/></g></g></svg>
<div class="abs" style="left:657.50px;top:450.80px;width:105px;height:8px;border-radius:4px;background:#d4d5d8;overflow:hidden"><div class="abs" style="left:98.0px;top:0;width:7.0px;height:8px;background:#cbd3dd"></div><div class="abs" style="left:0;top:0;width:98.0px;height:8px;background:#14b8a6"></div></div>
<div class="tk" style="left:657.50px;top:460.00px">14 / 15</div>
<div class="date" style="left:781.00px;top:454.00px;width:100px;text-align:center">Dec 16</div>
<div class="date" style="left:902.00px;top:454.00px;width:100px;text-align:center">Mar 1</div>
<div class="date" style="left:1023.60px;top:454.00px;width:100px;text-align:center">Dec 17</div>
<div class="abs" style="left:0;top:491.00px;width:1102px;height:1px;background:#eceef1"></div>
<div class="cb" style="left:16.00px;top:513.50px"></div>
<div class="abs" style="left:48.00px;top:508.00px;width:24px;height:24px;border-radius:6.5px;background:#efe1fc"></div><svg class="abs" style="left:53.00px;top:514.00px" width="14" height="12" viewBox="0 0 14 12"><rect x="1.3" y="1.5" width="11.5" height="9.7" rx="1.9" fill="none" stroke="#414b59" stroke-width="1.35"/><path d="M0.8 4.6 V3 Q0.8 0.9 2.9 0.9 H11.2 Q13.3 0.9 13.3 3 V4.6 Z" fill="#414b59"/><rect x="2.4" y="2.0" width="0.8" height="1.5" fill="#8f97a3"/><rect x="3.9" y="2.0" width="0.8" height="1.5" fill="#8f97a3"/><rect x="5.9" y="2.0" width="5.6" height="1.5" fill="#8f97a3"/></svg>
<div class="pn" style="left:80.30px;top:510.80px">Project Div</div>
<svg class="abs" style="left:514.80px;top:500.40px" width="36" height="36" viewBox="0 0 36 36"><circle cx="18" cy="18" r="14.0" fill="none" stroke="#fde3e3" stroke-width="3.8"/><circle cx="18" cy="18" r="14.0" fill="none" stroke="#ec3239" stroke-width="3.8" stroke-linecap="round" stroke-dasharray="13.19 87.96" transform="rotate(-90 18 18)"/><text x="18" y="22.3" text-anchor="middle" font-family="Liberation Sans" font-size="12.3" fill="#111">15</text></svg>
<div class="abs" style="left:657.50px;top:507.80px;width:105px;height:8px;border-radius:4px;background:#d4d5d8;overflow:hidden"><div class="abs" style="left:35.0px;top:0;width:70.0px;height:8px;background:#cbd3dd"></div><div class="abs" style="left:0;top:0;width:35.0px;height:8px;background:#ef4444"></div></div>
<div class="tk" style="left:657.50px;top:517.00px">0 / 3</div>
<div class="date" style="left:781.00px;top:511.00px;width:100px;text-align:center">Aug 13</div>
  </div><!--/tbl--><!--/tbl--><!--/tbl--><!--/tbl--><!--/tbl--><!--/tbl--><!--/tbl--><!--/tbl--><!--/tbl--><!--/tbl--><!--/tbl--><!--/tbl-->

  <div class="abs" style="left:32px;top:766px;font-size:15px;color:#6b7785;line-height:18px">8 projects found</div>

  <div class="abs" style="left:1155px;top:338.3px;width:110px;height:110px;border-radius:55px;background:#f4f4f4"></div>
  <!-- chat -->
  <div class="abs" style="left:1066px;top:737px;width:60px;height:60px;border-radius:25px;background:#4f7de8;box-shadow:0 5px 6px rgba(0,0,0,0.05)"></div>
  <svg class="abs" style="left:1066px;top:737px" width="60" height="60" viewBox="0 0 60 60"><path d="M29.75 19.7 C38 19.7 41.3 22.5 41.3 28.3 C41.3 32.5 40.2 35 38.2 36.3 L37.7 41.8 L32.8 37.2 L29.75 37.3 C21.5 37.3 18.2 34.8 18.2 28.5 C18.2 22.3 21.5 19.7 29.75 19.7 Z" fill="none" stroke="#fff" stroke-width="2" stroke-linejoin="round"/></svg>
</div>
</body></html>
